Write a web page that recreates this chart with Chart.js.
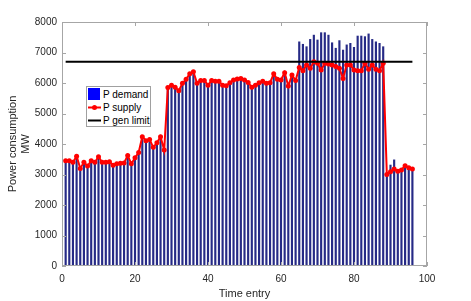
<!DOCTYPE html>
<html>
<head>
<meta charset="utf-8">
<script src="https://cdn.jsdelivr.net/npm/chart.js@4.4.1/dist/chart.umd.min.js"></script>
<style>
    html, body { margin: 0; padding: 0; background: #fff; }
    #wrap { position: relative; width: 471px; height: 301px; }
    #legend {
        position: absolute; left: 86px; top: 86px; width: 63px; height: 39px;
        border: 1px solid #a0a0a0; background: #fff;
        font: 10px "Liberation Sans", Arial, sans-serif; color: #000;
    }
    .row { position: absolute; left: 1px; height: 13px; line-height: 13px; white-space: nowrap; }
    .row span.lbl { position: absolute; left: 15px; top: 0; }
    .sw { position: absolute; left: 0; top: 0; width: 13px; height: 13px; }
</style>
</head>
<body>
<div id="wrap">
    <canvas id="chart" width="471" height="301"></canvas>
    <div id="legend">
        <div class="row" style="top:1px"><canvas class="sw" id="sw-demand" width="13" height="13"></canvas><span class="lbl">P demand</span></div>
        <div class="row" style="top:14px"><canvas class="sw" id="sw-supply" width="13" height="13"></canvas><span class="lbl">P supply</span></div>
        <div class="row" style="top:27px"><canvas class="sw" id="sw-limit" width="13" height="13"></canvas><span class="lbl">P gen limit</span></div>
    </div>
</div>
<script>
// time entries (x)
const timeEntry = [
    1, 2, 3, 4, 5, 6, 7, 8, 9, 10, 11, 12, 13, 14, 15, 16, 17, 18, 19, 20,
    21, 22, 23, 24, 25, 26, 27, 28, 29, 30, 31, 32, 33, 34, 35, 36, 37, 38, 39, 40,
    41, 42, 43, 44, 45, 46, 47, 48, 49, 50, 51, 52, 53, 54, 55, 56, 57, 58, 59, 60,
    61, 62, 63, 64, 65, 66, 67, 68, 69, 70, 71, 72, 73, 74, 75, 76, 77, 78, 79, 80,
    81, 82, 83, 84, 85, 86, 87, 88, 89, 90, 91, 92, 93, 94, 95, 96
];

// supplied power (MW), red line
const pSupply = [
    3450, 3450, 3400, 3600, 3200, 3400, 3280, 3450, 3400, 3580,
    3400, 3400, 3420, 3300, 3350, 3370, 3380, 3620, 3350, 3550,
    3720, 4240, 4110, 4150, 3890, 4040, 4240, 3800, 5850, 5930,
    5860, 5750, 5990, 6120, 6300, 6370, 5990, 6080, 6080, 5930,
    6080, 6060, 6060, 5930, 5910, 6010, 6100, 6130, 6150, 6100,
    6020, 5860, 5930, 6010, 6060, 5990, 6010, 6300, 6120, 6100,
    6340, 5900, 6260, 6080, 6510, 6400, 6590, 6480, 6700, 6650,
    6430, 6650, 6620, 6590, 6540, 6480, 6150, 6590, 6590, 6430,
    6400, 6400, 6650, 6450, 6590, 6450, 6400, 6650, 3000, 3090,
    3180, 3110, 3150, 3290, 3220, 3180
];

// demanded power (MW), bars
const pDemand = [
    3450, 3450, 3400, 3600, 3200, 3400, 3280, 3450, 3400, 3580,
    3400, 3400, 3420, 3300, 3350, 3370, 3380, 3620, 3350, 3550,
    3720, 4240, 4110, 4150, 3890, 4040, 4240, 3800, 5850, 5930,
    5860, 5750, 5990, 6120, 6300, 6370, 5990, 6080, 6080, 5930,
    6080, 6060, 6060, 5930, 5910, 6010, 6100, 6130, 6150, 6100,
    6020, 5860, 5930, 6010, 6060, 5990, 6010, 6300, 6120, 6100,
    6340, 5900, 6260, 6080, 7350, 7270, 7190, 7430, 7570, 7410,
    7650, 7650, 7570, 7320, 7140, 7390, 7080, 7250, 7300, 7170,
    7540, 7540, 7520, 7610, 7430, 7350, 7300, 7190, 3000, 3310,
    3480, 3110, 3150, 3290, 3220, 3180
];

// generation limit line
const limitX = [1, 96];
const limitY = [6700, 6700];

const xTicks = [0, 20, 40, 60, 80, 100];
const yTicks = [0, 1000, 2000, 3000, 4000, 5000, 6000, 7000, 8000];

const FONT = '"Liberation Sans", Arial, sans-serif';
const AXIS_GREY = '#a6a6a6';
const LABEL_GREY = '#262626';

// MATLAB-like box with inward tick marks
const boxPlugin = {
    id: 'box',
    afterDatasetsDraw(chart) {
        const { ctx, chartArea: a, scales } = chart;
        ctx.save();
        ctx.strokeStyle = AXIS_GREY;
        ctx.lineWidth = 1;
        ctx.strokeRect(a.left + 0.5, a.top + 0.5, a.right - a.left - 1, a.bottom - a.top - 1);
        ctx.beginPath();
        xTicks.forEach(v => {
            const px = Math.round(scales.x.getPixelForValue(v)) + 0.5;
            ctx.moveTo(px, a.bottom); ctx.lineTo(px, a.bottom - 4);
            ctx.moveTo(px, a.top); ctx.lineTo(px, a.top + 4);
        });
        yTicks.forEach(v => {
            const py = Math.round(scales.y.getPixelForValue(v)) + 0.5;
            ctx.moveTo(a.left, py); ctx.lineTo(a.left + 4, py);
            ctx.moveTo(a.right, py); ctx.lineTo(a.right - 4, py);
        });
        ctx.stroke();
        ctx.restore();
    }
};

const chart = new Chart(document.getElementById('chart'), {
    type: 'line',
    data: {
        datasets: [{
            type: 'bar',
            label: 'P demand',
            data: timeEntry.map((x, i) => ({ x: x, y: pDemand[i] })),
            backgroundColor: '#262a86',
            borderWidth: 0,
            barThickness: 1.5,
            order: 3
        }, {
            type: 'line',
            label: 'P supply',
            data: timeEntry.map((x, i) => ({ x: x, y: pSupply[i] })),
            borderColor: '#ff0000',
            borderWidth: 2,
            pointRadius: 2.5,
            pointBackgroundColor: '#ff0000',
            pointBorderColor: '#ff0000',
            pointBorderWidth: 0,
            tension: 0,
            order: 2
        }, {
            type: 'line',
            label: 'P gen limit',
            data: limitX.map((x, i) => ({ x: x, y: limitY[i] })),
            borderColor: '#000000',
            borderWidth: 2,
            pointRadius: 0,
            order: 1
        }]
    },
    options: {
        responsive: false,
        animation: false,
        layout: { padding: { left: 0, right: 44, top: 22, bottom: 0 } },
        plugins: {
            legend: { display: false },
            tooltip: { enabled: false }
        },
        scales: {
            x: {
                type: 'linear',
                min: 0,
                max: 100,
                offset: false,
                afterBuildTicks: s => { s.ticks = xTicks.map(v => ({ value: v })); },
                afterFit: s => { s.height = 35; },
                grid: { display: false, drawTicks: false },
                border: { display: false },
                ticks: {
                    padding: 7, color: LABEL_GREY, maxRotation: 0,
                    font: { family: FONT, size: 10 },
                    callback: v => String(v)
                },
                title: {
                    display: true,
                    text: 'Time entry',
                    color: LABEL_GREY,
                    font: { family: FONT, size: 11 },
                    padding: { top: 0, bottom: 0 }
                }
            },
            y: {
                min: 0,
                max: 8000,
                afterBuildTicks: s => { s.ticks = yTicks.map(v => ({ value: v })); },
                afterFit: s => { s.width = 62; },
                grid: { display: false, drawTicks: false },
                border: { display: false },
                ticks: {
                    padding: 5, color: LABEL_GREY,
                    font: { family: FONT, size: 10 },
                    callback: v => String(v)
                },
                title: {
                    display: true,
                    text: ['Power consumption', 'MW'],
                    color: LABEL_GREY,
                    font: { family: FONT, size: 11 },
                    padding: { top: 6, bottom: 0 }
                }
            }
        }
    },
    plugins: [boxPlugin]
});

// legend swatches
function swatch(id, draw) {
    const c = document.getElementById(id).getContext('2d');
    draw(c);
}
swatch('sw-demand', c => {
    c.fillStyle = '#0000ff';
    c.fillRect(0, 0, 12, 12);
});
swatch('sw-supply', c => {
    c.strokeStyle = '#ff0000'; c.lineWidth = 2;
    c.beginPath(); c.moveTo(0, 6.5); c.lineTo(13, 6.5); c.stroke();
    c.fillStyle = '#ff0000';
    c.beginPath(); c.arc(6.5, 6.5, 2.5, 0, Math.PI * 2); c.fill();
});
swatch('sw-limit', c => {
    c.strokeStyle = '#000000'; c.lineWidth = 2;
    c.beginPath(); c.moveTo(0, 6.5); c.lineTo(13, 6.5); c.stroke();
});
</script>
</body>
</html>
